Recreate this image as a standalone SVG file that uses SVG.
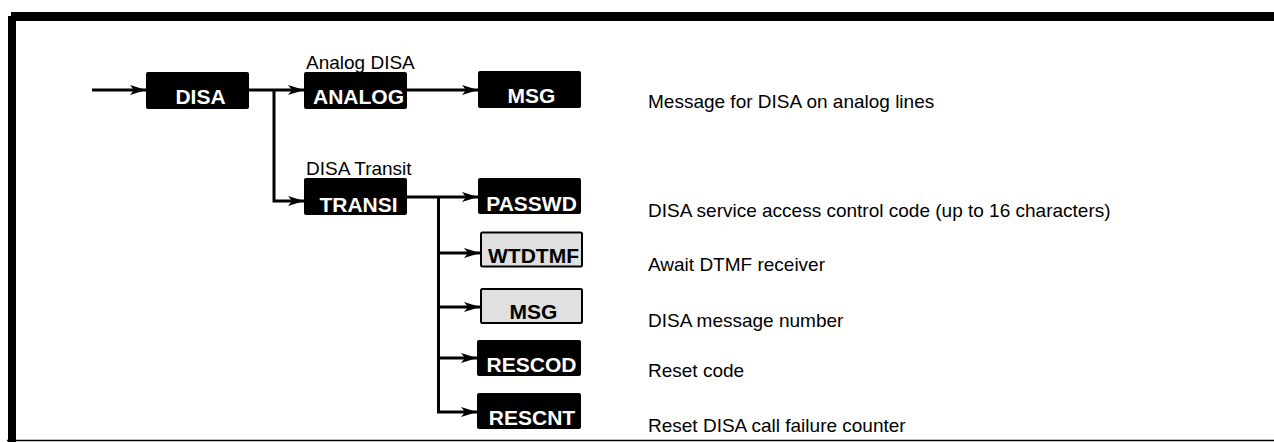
<svg xmlns="http://www.w3.org/2000/svg" width="1274" height="442" viewBox="0 0 1274 442">
<style>
.nb{fill:#000;rx:2;ry:2}
.ng{fill:#e0e0e0;stroke:#000;stroke-width:2;rx:1.5;ry:1.5}
.tw{font-family:"Liberation Sans",Arial,sans-serif;font-weight:bold;font-size:21px;fill:#fff;text-anchor:middle}
.tb{font-family:"Liberation Sans",Arial,sans-serif;font-weight:bold;font-size:21px;fill:#000;text-anchor:middle}
.lbl{font-family:"Liberation Sans",Arial,sans-serif;font-size:19px;fill:#000}
.c{fill:none;stroke:#000;stroke-width:3}
.ca{fill:none;stroke:#000;stroke-width:3;marker-end:url(#ah)}
</style>
<defs>
<marker id="ah" markerUnits="userSpaceOnUse" markerWidth="18" markerHeight="12" refX="16" refY="6" orient="auto">
<path d="M0,1 L16,6 L0,11 L4,6 Z" fill="#000"/>
</marker>
</defs>
<rect width="1274" height="442" fill="#fff"/>
<g id="frame">
<rect x="11" y="12" width="1263" height="9" fill="#000"/>
<rect x="8" y="16" width="8" height="426" fill="#000"/>
<line x1="7" y1="440.5" x2="1274" y2="440.5" stroke="#000" stroke-width="1.5"/>
</g>
<g id="connectors">
<line class="ca" x1="92" y1="90" x2="146" y2="90"/>
<line class="ca" x1="249" y1="90" x2="304" y2="90"/>
<polyline class="ca" points="274,90 274,201 304,201"/>
<line class="ca" x1="407" y1="90" x2="478" y2="90"/>
<line class="ca" x1="407" y1="197" x2="478" y2="197"/>
<line class="c" x1="438.5" y1="197" x2="438.5" y2="412"/>
<line class="ca" x1="438.5" y1="253" x2="480" y2="253"/>
<line class="ca" x1="438.5" y1="307" x2="480" y2="307"/>
<line class="ca" x1="438.5" y1="358" x2="477" y2="358"/>
<line class="ca" x1="437" y1="412" x2="477" y2="412"/>
</g>
<g id="node-disa">
<rect class="nb" x="146" y="72" width="103" height="37"/>
<text class="tw" x="200.5" y="104">DISA</text>
</g>
<g id="node-analog">
<text class="lbl" x="306" y="69">Analog DISA</text>
<rect class="nb" x="304" y="72" width="103" height="37"/>
<text class="tw" x="358.5" y="104">ANALOG</text>
</g>
<g id="node-msg1">
<rect class="nb" x="478" y="71" width="103" height="37"/>
<text class="tw" x="531.5" y="103">MSG</text>
<text class="lbl" x="648" y="108">Message for DISA on analog lines</text>
</g>
<g id="node-transi">
<text class="lbl" x="306" y="175">DISA Transit</text>
<rect class="nb" x="304" y="178" width="103" height="37"/>
<text class="tw" x="358.5" y="211.5">TRANSI</text>
</g>
<g id="node-passwd">
<rect class="nb" x="478" y="178" width="103" height="36"/>
<text class="tw" x="531.5" y="211">PASSWD</text>
<text class="lbl" x="648" y="217">DISA service access control code (up to 16 characters)</text>
</g>
<g id="node-wtdtmf">
<rect class="ng" x="481" y="232.5" width="101" height="34"/>
<text class="tb" x="533.5" y="263">WTDTMF</text>
<text class="lbl" x="648" y="271">Await DTMF receiver</text>
</g>
<g id="node-msg2">
<rect class="ng" x="481" y="289" width="101" height="34"/>
<text class="tb" x="533.5" y="319">MSG</text>
<text class="lbl" x="648" y="327">DISA message number</text>
</g>
<g id="node-rescod">
<rect class="nb" x="477" y="340" width="104" height="36"/>
<text class="tw" x="531.5" y="372">RESCOD</text>
<text class="lbl" x="648" y="377">Reset code</text>
</g>
<g id="node-rescnt">
<rect class="nb" x="477" y="393" width="104" height="36"/>
<text class="tw" x="532" y="425">RESCNT</text>
<text class="lbl" x="648" y="432">Reset DISA call failure counter</text>
</g>
</svg>
